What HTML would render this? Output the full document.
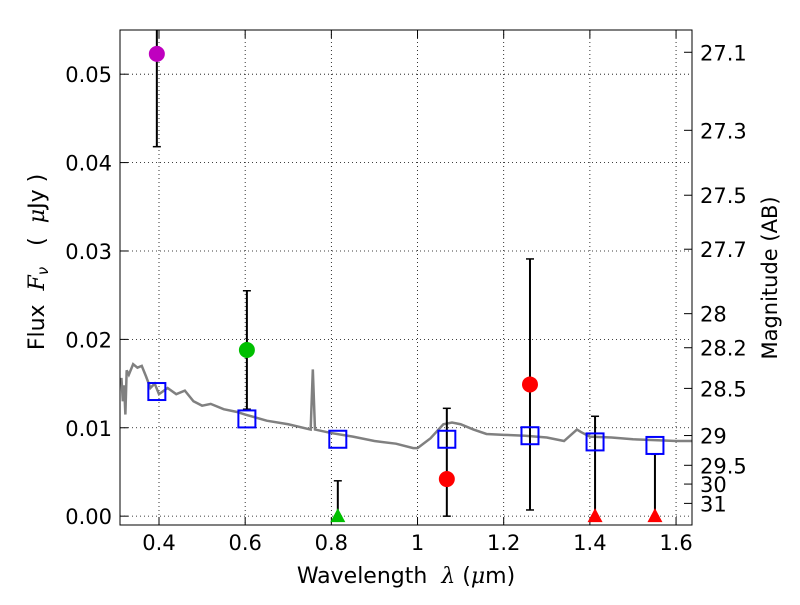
<!DOCTYPE html>
<html><head><meta charset="utf-8"><style>
body{margin:0;background:#fff;}
svg text{font-family:"DejaVu Sans","Liberation Sans",sans-serif;fill:#000;}
</style></head><body>
<svg id="c" width="800" height="600"></svg>
<script>
const specX=[0.31,0.313,0.316,0.319,0.322,0.325,0.33,0.34,0.35,0.36,0.37,0.38,0.39,0.40,0.42,0.44,0.46,0.48,0.50,0.52,0.55,0.58,0.60,0.65,0.70,0.752,0.757,0.762,0.80,0.85,0.90,0.95,0.99,1.0,1.03,1.06,1.08,1.10,1.13,1.16,1.20,1.25,1.30,1.34,1.37,1.38,1.40,1.45,1.50,1.55,1.60,1.64];
const specY=[0.0155,0.0155,0.013,0.0148,0.0115,0.0165,0.016,0.0172,0.0168,0.017,0.0158,0.0145,0.015,0.0138,0.0145,0.0138,0.0142,0.013,0.0125,0.0127,0.0121,0.0118,0.0115,0.0108,0.0104,0.0098,0.0166,0.0098,0.0094,0.009,0.0085,0.0082,0.0077,0.0077,0.0088,0.0104,0.0106,0.0104,0.0098,0.0093,0.0092,0.0091,0.0089,0.0085,0.0098,0.0095,0.009,0.0089,0.0087,0.0086,0.0085,0.0085];
const sqX=[0.395,0.604,0.815,1.068,1.261,1.412,1.551];
const sqY=[0.0141,0.0110,0.0087,0.0087,0.0091,0.0084,0.0080];
const ptX=[0.395,0.604,0.815,1.068,1.261,1.412,1.551];
const ptY=[0.0523,0.0188,0.0,0.0042,0.0149,0.0,0.0];
const ptLo=[0.0418,0.0121,0.0,0.0,0.0007,0.0,0.0];
const ptHi=[0.065,0.0255,0.0040,0.0122,0.0291,0.0113,0.0070];
const ptShape=['circle','circle','triangle','circle','circle','triangle','triangle'];
const ptColor=['#bf00bf','#00bf00','#00bf00','#ff0000','#ff0000','#ff0000','#ff0000'];
const xTicks=[0.4,0.6,0.8,1.0,1.2,1.4,1.6];
const xTickLabels=['0.4','0.6','0.8','1','1.2','1.4','1.6'];
const yTicks=[0,0.01,0.02,0.03,0.04,0.05];
const yTickLabels=['0.00','0.01','0.02','0.03','0.04','0.05'];
const magTicks=[27.1,27.3,27.5,27.7,28,28.2,28.5,29,29.5,30,31];

const L=120,R=692,T=30,B=525,X0=0.3095,X1=1.637,Y0=-0.001,Y1=0.055;
const sx=v=>L+(v-X0)/(X1-X0)*(R-L);
const sy=v=>B-(v-Y0)/(Y1-Y0)*(B-T);
const svg=document.getElementById('c');
const NS='http://www.w3.org/2000/svg';
function mk(tag,at,parent){const e=document.createElementNS(NS,tag);for(const k in at)e.setAttribute(k,at[k]);(parent||svg).appendChild(e);return e;}
const clip=mk('clipPath',{id:'cp'});mk('rect',{x:L,y:T,width:R-L,height:B-T},clip);
xTicks.forEach((v,i)=>{
 let g=mk('line',{x1:sx(v),x2:sx(v),y1:T,y2:B,stroke:'#000','stroke-dasharray':'1,3','stroke-width':0.8});
 
 mk('line',{x1:sx(v),x2:sx(v),y1:B,y2:B-8,stroke:'#000'});mk('line',{x1:sx(v),x2:sx(v),y1:T,y2:T+8,stroke:'#000'});
 let t=mk('text',{x:sx(v),y:B+25,'text-anchor':'middle','font-size':21});t.textContent=xTickLabels[i];
 
});
yTicks.forEach((v,i)=>{
 let g=mk('line',{x1:L,x2:R,y1:sy(v),y2:sy(v),stroke:'#000','stroke-dasharray':'1,3','stroke-width':0.8});
 
 mk('line',{x1:L,x2:L+8,y1:sy(v),y2:sy(v),stroke:'#000'});
 let t=mk('text',{x:L-8,y:sy(v)+8,'text-anchor':'end','font-size':21});t.textContent=yTickLabels[i];
 
});
magTicks.forEach(m=>{
 const f=Math.pow(10,(23.9-m)/2.5);const y=sy(f);
 mk('line',{x1:R,x2:R-8,y1:y,y2:y,stroke:'#000'});
 let t=mk('text',{x:R+8,y:y+8,'font-size':21});t.textContent=String(m);
 
});
const g=mk('g',{'clip-path':'url(#cp)'});
let p=mk('polyline',{points:specX.map((x,i)=>sx(x)+','+sy(specY[i])).join(' '),fill:'none',stroke:'#808080','stroke-width':2.5},g);

ptX.forEach((x,i)=>{
 let e=mk('line',{x1:sx(x),x2:sx(x),y1:sy(ptLo[i]),y2:sy(ptHi[i]),stroke:'#000','stroke-width':2},g);
 
 [ptLo[i],ptHi[i]].forEach(v=>mk('line',{x1:sx(x)-4,x2:sx(x)+4,y1:sy(v),y2:sy(v),stroke:'#000','stroke-width':1.5},g));
});
sqX.forEach((x,i)=>{
 let r=mk('rect',{x:sx(x)-8.5,y:sy(sqY[i])-8.5,width:17,height:17,fill:'none',stroke:'#0000ff','stroke-width':2},g);
 
});
ptX.forEach((x,i)=>{
 const cx=sx(x),cy=sy(ptY[i]);let e;
 if(ptShape[i]==='circle')e=mk('circle',{cx:cx,cy:cy,r:8,fill:ptColor[i]},g);
 else e=mk('polygon',{points:`${cx},${cy-8} ${cx-7.5},${cy+6} ${cx+7.5},${cy+6}`,fill:ptColor[i]},g);
 
});
let fr=mk('rect',{x:L,y:T,width:R-L,height:B-T,fill:'none',stroke:'#000','stroke-width':1});

let xl=mk('text',{x:406,y:583,'text-anchor':'middle','font-size':22});xl.setAttribute('style','white-space:pre');xl.innerHTML='Wavelength  <tspan font-style="italic" font-family="DejaVu Serif">λ</tspan> (<tspan font-style="italic" font-family="DejaVu Serif">μ</tspan>m)';

let yl=mk('text',{x:0,y:0,'text-anchor':'middle','font-size':22,transform:'translate(44,262) rotate(-90)'});yl.setAttribute('style','white-space:pre');yl.innerHTML='Flux  <tspan font-style="italic" font-family="DejaVu Serif">F</tspan><tspan font-style="italic" font-size="15" dy="4">ν</tspan><tspan dy="-4">   (  </tspan><tspan font-style="italic" font-family="DejaVu Serif">μ</tspan>Jy )';

let rl=mk('text',{x:0,y:0,'text-anchor':'middle','font-size':21,transform:'translate(777,278) rotate(-90)'});rl.textContent='Magnitude (AB)';

</script>
</body></html>
